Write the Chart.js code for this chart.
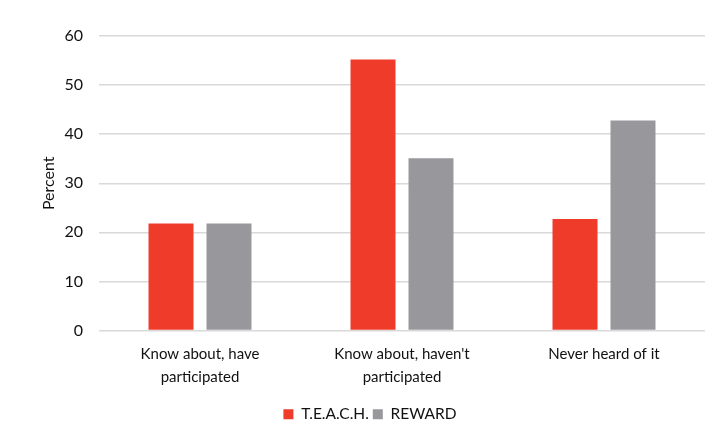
<!DOCTYPE html>
<html>
<head>
<meta charset="utf-8">
<script src="https://cdn.jsdelivr.net/npm/chart.js@4.4.1/dist/chart.umd.min.js"></script>
<style>
  html, body { margin: 0; padding: 0; background: #fff; }
  #wrap { width: 712px; height: 423px; }
</style>
</head>
<body>
<div id="wrap"><canvas id="chart" width="712" height="423"></canvas></div>
<script>
// Awareness of each program, share of respondents
const categories = [
    ['Know about, have', 'participated'],
    ["Know about, haven't", 'participated'],
    ['Never heard of it']
];
const teach = [21.8, 55.2, 22.7];
const reward = [21.8, 35.1, 42.8];
const yTicks = [0, 10, 20, 30, 40, 50, 60];

const FONT = "Lato, 'Open Sans', sans-serif";

new Chart(document.getElementById('chart'), {
    type: 'bar',
    data: {
        labels: categories,
        datasets: [
            { label: 'T.E.A.C.H.', data: teach, backgroundColor: '#ee3b2a' },
            { label: 'REWARD', data: reward, backgroundColor: '#98979c' }
        ]
    },
    options: {
        responsive: false,
        animation: false,
        layout: { padding: { top: 36, right: 7, bottom: -9, left: 35 } },
        datasets: {
            bar: { categoryPercentage: 0.574, barPercentage: 0.776 }
        },
        plugins: {
            tooltip: { enabled: false },
            legend: {
                position: 'bottom',
                labels: {
                    boxWidth: 10,
                    boxHeight: 10,
                    padding: 4,
                    color: '#111',
                    font: { family: FONT, size: 15.5 }
                }
            }
        },
        scales: {
            x: {
                grid: { display: false },
                border: { display: false },
                ticks: {
                    color: '#111',
                    padding: 4,
                    maxRotation: 0,
                    font: { family: FONT, size: 15, lineHeight: 1.55 }
                },
                afterFit: s => { s.height = 72; }
            },
            y: {
                min: 0,
                max: 60,
                afterBuildTicks: s => { s.ticks = yTicks.map(v => ({ value: v })); },
                grid: { color: '#d9d9d9', lineWidth: 1.5, drawTicks: false },
                border: { display: false },
                ticks: {
                    color: '#111',
                    padding: 16,
                    font: { family: FONT, size: 16 }
                },
                title: {
                    display: true,
                    text: 'Percent',
                    color: '#111',
                    padding: { bottom: 2 },
                    font: { family: FONT, size: 16 }
                },
                afterFit: s => { s.width = 64; }
            }
        }
    }
});
</script>
</body>
</html>
